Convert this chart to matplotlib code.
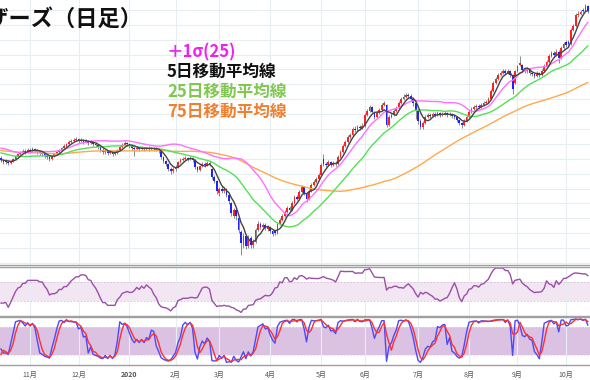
import numpy as np
import pandas as pd
import matplotlib
matplotlib.use("Agg")
import matplotlib.pyplot as plt

plt.rcParams['font.family'] = ['Noto Sans CJK JP', 'DejaVu Sans']

# index level (chart units), 75 sessions before the visible window (needed for the averages)
pre_closes = [133, 134, 135, 134, 136, 137, 135, 134, 136, 138, 137, 135, 134, 133, 135,
              136, 134, 133, 132, 134, 135, 133, 131, 130, 128,
              126, 124, 120, 118, 121, 123, 122, 120, 119, 121, 124, 125, 123, 122, 124,
              126, 127, 125, 126, 128, 129, 130, 131, 130, 132,
              133, 132, 131, 133, 134, 132, 130, 131, 129, 128, 127, 128, 126, 125, 127,
              126, 124, 123, 122, 123, 121, 120, 119, 118, 120]

# daily candles, 2019-10-15 .. 2020-10-15
opens = [121, 119, 118, 117, 116, 118, 120, 123, 125, 127, 128, 127, 129, 128, 130, 129, 127, 126, 125, 123,
         122, 120, 123, 125, 127, 129, 131, 133, 135, 137, 138, 139, 140, 138, 139, 137, 138, 136, 137, 135,
         134, 132, 129, 127, 128, 126, 127, 125, 126, 129, 132, 134, 136, 135, 133, 131, 130, 131, 130, 131,
         130, 131, 130, 131, 129, 130, 128, 122, 118, 115, 110, 108, 110, 112, 117, 119, 120, 121, 120, 121,
         119, 112, 109, 113, 115, 114, 116, 110, 102, 98, 86, 90, 88, 90, 84, 75, 62, 68, 60, 46,
         33, 42, 32, 40, 33, 36, 48, 54, 51, 53, 49, 51, 47, 47, 45, 54, 58, 62, 66, 70,
         68, 75, 82, 80, 87, 92, 86, 79, 88, 94, 97, 100, 104, 120, 115, 114, 117, 114, 116, 115,
         122, 127, 133, 137, 142, 144, 150, 149, 152, 151, 153, 164, 168, 172, 167, 162, 166, 169, 174, 174,
         154, 162, 164, 168, 171, 176, 180, 182, 184, 183, 180, 176, 168, 158, 152, 156, 162, 164, 163, 165,
         164, 166, 164, 165, 166, 164, 165, 163, 162, 159, 156, 154, 158, 162, 167, 170, 172, 173, 172, 174,
         176, 177, 180, 188, 196, 200, 204, 206, 208, 206, 208, 204, 196, 208, 215, 215, 209, 208, 210, 206,
         205, 203, 206, 204, 208, 214, 218, 224, 227, 225, 228, 222, 232, 238, 238, 236, 250, 254, 265, 266,
         270, 269, 274]
highs = [123, 120, 120, 119, 119, 121, 124, 126, 128, 130, 130, 131, 131, 132, 131, 130, 129, 128, 126, 125,
         123, 124, 126, 128, 130, 132, 135, 136, 139, 140, 141, 142, 141, 141, 140, 140, 139, 139, 138, 137,
         135, 133, 131, 130, 129, 129, 128, 128, 130, 133, 136, 138, 137, 136, 134, 133, 133, 132, 133, 132,
         132, 133, 132, 132, 132, 131, 129, 123, 119, 116, 112, 112, 114, 118, 121, 122, 123, 122, 123, 122,
         120, 113, 114, 117, 117, 118, 118, 111, 104, 99, 92, 93, 92, 91, 85, 76, 70, 70, 62, 48,
         45, 44, 43, 42, 39, 50, 57, 56, 55, 55, 53, 52, 48, 49, 55, 60, 64, 68, 72, 72,
         77, 84, 84, 89, 94, 93, 87, 90, 96, 99, 102, 106, 116, 125, 117, 119, 118, 118, 118, 124,
         129, 135, 139, 144, 146, 152, 153, 154, 154, 156, 166, 170, 174, 173, 168, 168, 171, 176, 178, 175,
         164, 166, 170, 173, 178, 182, 185, 186, 186, 185, 181, 177, 170, 160, 158, 164, 166, 166, 167, 167,
         168, 167, 167, 168, 167, 167, 166, 165, 163, 160, 157, 160, 164, 169, 172, 174, 175, 175, 176, 178,
         179, 182, 190, 198, 202, 206, 208, 210, 210, 210, 209, 205, 209, 215, 224, 216, 211, 212, 211, 208,
         206, 208, 207, 210, 216, 220, 226, 229, 229, 231, 230, 234, 238, 240, 240, 252, 256, 267, 269, 270,
         272, 276, 275]
lows = [117, 115, 115, 114, 115, 117, 119, 122, 124, 126, 125, 126, 126, 127, 127, 125, 124, 123, 121, 120,
        118, 119, 122, 124, 126, 128, 130, 132, 134, 136, 137, 138, 136, 137, 135, 136, 134, 135, 133, 132,
        130, 127, 125, 125, 124, 125, 123, 124, 125, 128, 131, 133, 133, 131, 129, 123, 129, 128, 129, 128,
        129, 128, 129, 128, 128, 126, 120, 116, 113, 108, 105, 106, 108, 111, 116, 118, 119, 118, 119, 117,
        110, 107, 108, 112, 112, 113, 113, 100, 96, 85, 83, 86, 86, 82, 74, 62, 60, 58, 45, 23,
        30, 29, 30, 30, 30, 35, 47, 49, 49, 48, 47, 45, 42, 43, 44, 53, 57, 61, 65, 66,
        67, 74, 78, 79, 86, 84, 76, 78, 87, 93, 96, 99, 103, 113, 112, 113, 112, 113, 113, 114,
        121, 126, 132, 136, 140, 143, 147, 148, 149, 150, 152, 163, 167, 165, 160, 161, 165, 168, 173, 152,
        153, 161, 163, 167, 170, 175, 179, 181, 181, 178, 173, 160, 155, 150, 150, 155, 161, 161, 162, 162,
        163, 162, 163, 164, 162, 163, 161, 160, 157, 154, 151, 153, 157, 161, 166, 169, 170, 170, 171, 173,
        175, 176, 179, 187, 195, 199, 203, 205, 204, 205, 202, 185, 195, 207, 214, 207, 206, 206, 204, 203,
        201, 202, 202, 203, 207, 213, 217, 223, 223, 224, 217, 221, 231, 233, 234, 235, 249, 253, 263, 265,
        267, 268, 267]
closes = [119, 117, 117, 116, 118, 120, 123, 125, 127, 128, 127, 129, 128, 130, 129, 127, 126, 125, 123, 122,
          120, 123, 125, 127, 129, 131, 133, 135, 137, 138, 139, 140, 138, 139, 137, 138, 136, 137, 135, 134,
          132, 129, 127, 128, 126, 127, 125, 126, 129, 132, 134, 136, 135, 133, 131, 130, 131, 130, 131, 130,
          131, 130, 131, 130, 130, 128, 122, 118, 115, 110, 108, 110, 112, 117, 119, 120, 121, 120, 121, 119,
          112, 109, 113, 115, 114, 116, 115, 102, 98, 88, 90, 88, 90, 84, 77, 65, 68, 62, 48, 35,
          42, 32, 40, 33, 36, 48, 54, 51, 53, 50, 51, 47, 44, 45, 54, 58, 62, 66, 70, 68,
          75, 82, 80, 87, 92, 86, 79, 88, 94, 97, 100, 104, 114, 115, 114, 117, 114, 116, 115, 122,
          127, 133, 137, 142, 144, 150, 149, 152, 151, 153, 164, 168, 172, 167, 162, 166, 169, 174, 176, 154,
          162, 164, 168, 171, 176, 180, 182, 184, 183, 180, 176, 168, 158, 152, 156, 162, 164, 163, 165, 164,
          166, 164, 165, 166, 164, 165, 163, 162, 159, 156, 154, 158, 162, 167, 170, 172, 173, 172, 174, 176,
          177, 180, 188, 196, 200, 204, 206, 208, 206, 208, 204, 190, 208, 213, 217, 209, 208, 210, 206, 205,
          203, 206, 204, 208, 214, 218, 224, 227, 225, 228, 222, 232, 236, 235, 236, 250, 254, 265, 266, 268,
          269, 274, 269]

month_idx = [12, 32, 53, 72, 90, 111, 132, 150, 172, 193, 213, 233]
month_labels = ['11月', '12月', '2020', '2月', '3月', '4月', '5月', '6月', '7月', '8月', '9月', '10月']

# indicators
n_pre = len(pre_closes)
allc = pd.Series(pre_closes + closes, dtype=float)
ma5 = allc.rolling(5).mean().values[n_pre:]
m25 = allc.rolling(25).mean()
sd25 = allc.rolling(25).std(ddof=0)
up1 = (m25 + sd25).values[n_pre:]
ma25 = m25.values[n_pre:]
ma75 = allc.rolling(75).mean().values[n_pre:]

# RSI 14 (simple averages)
diff = allc.diff()
gain = diff.clip(lower=0).rolling(14).mean()
loss = (-diff.clip(upper=0)).rolling(14).mean()
rsi = (100 * gain / (gain + loss)).values[n_pre:]

# fast stochastics 9/3
allh = pd.Series(pre_closes + highs, dtype=float)
alll = pd.Series(pre_closes + lows, dtype=float)
hh = allh.rolling(9).max()
ll = alll.rolling(9).min()
pk = 100 * (allc - ll) / (hh - ll)
pd_ = pk.rolling(3).mean()
stk = pk.values[n_pre:]
std_ = pd_.values[n_pre:]

x = np.arange(len(closes))
o = np.array(opens, float)
c = np.array(closes, float)

fig = plt.figure(figsize=(5.9, 3.8), dpi=100)
ax = fig.add_axes([0, 1 - 265 / 380, 1, 265 / 380])
ax2 = fig.add_axes([0, 1 - 316 / 380, 1, 49 / 380])
ax3 = fig.add_axes([0, 1 - 365 / 380, 1, 48 / 380])

xl = (-0.4, 242.9)
for a in (ax, ax2, ax3):
    a.set_xlim(*xl)
    a.set_xticks(month_idx)
    a.grid(axis='x', color='#e6edf3', lw=0.8)
    a.set_axisbelow(True)
    a.tick_params(left=False, labelleft=False, bottom=False, labelbottom=False)
    for s in ('left', 'right'):
        a.spines[s].set_visible(False)
    for s in ('top', 'bottom'):
        a.spines[s].set_color('#a0a0a0')
        a.spines[s].set_linewidth(1.0)

# main price panel
ax.set_ylim(13, 280)
ax.set_yticks(np.arange(15, 280, 15))
ax.grid(axis='y', color='#e6edf3', lw=0.8)
ax.spines['top'].set_visible(False)
up = c >= o
ax.vlines(x, lows, highs, color='#777777', lw=0.6, zorder=2)
ax.bar(x, np.maximum(np.abs(c - o), 0.7), bottom=np.minimum(o, c), width=0.72,
       color=np.where(up, '#ff2020', '#2020ff'), linewidth=0, zorder=3)
ax.plot(x, ma75, color='#ffa94d', lw=1.0, zorder=4)
ax.plot(x, ma25, color='#55e055', lw=1.0, zorder=4)
ax.plot(x, up1, color='#ff70ff', lw=1.0, zorder=4)
ax.plot(x, ma5, color='#444444', lw=1.0, zorder=5)

# RSI panel
ax2.set_ylim(0, 100)
ax2.axhspan(30, 70, color='#f3e6f3', lw=0, zorder=0)
ax2.axhline(30, color='#d4bfd4', lw=0.6, ls=(0, (2, 2)))
ax2.axhline(70, color='#d4bfd4', lw=0.6, ls=(0, (2, 2)))
ax2.plot(x, rsi, color='#9b4fa8', lw=1.0)

# stochastics panel
ax3.set_ylim(0, 100)
ax3.axhspan(20, 80, color='#dcc2e2', lw=0, zorder=0)
ax3.axhline(20, color='#e8daea', lw=0.6, ls=(0, (2, 2)))
ax3.axhline(80, color='#e8daea', lw=0.6, ls=(0, (2, 2)))
ax3.plot(x, stk, color='#4a4aff', lw=1.0)
ax3.plot(x, std_, color='#ff3030', lw=1.0)
ax3.tick_params(labelbottom=True, labelsize=5, labelcolor='#555555', pad=1)
ax3.set_xticklabels(month_labels)
for lab in ax3.get_xticklabels():
    if lab.get_text() == '2020':
        lab.set_fontweight('bold')

# title (cut off on the left as in the screenshot) and legend text
fig.text(-36 / 590, 1 - 19 / 380, 'マザーズ（日足）', fontsize=16, fontweight='bold',
         va='center', ha='left', color='#111111')
legend = [('＋1σ(25)', '#ee22ee'), ('5日移動平均線', '#111111'),
          ('25日移動平均線', '#80c850'), ('75日移動平均線', '#f08030')]
for k, (t, col) in enumerate(legend):
    fig.text(167 / 590, 1 - (52 + 20 * k) / 380, t, fontsize=12, fontweight='bold',
             color=col, va='center', ha='left')

fig.savefig('out.png', dpi=100)
